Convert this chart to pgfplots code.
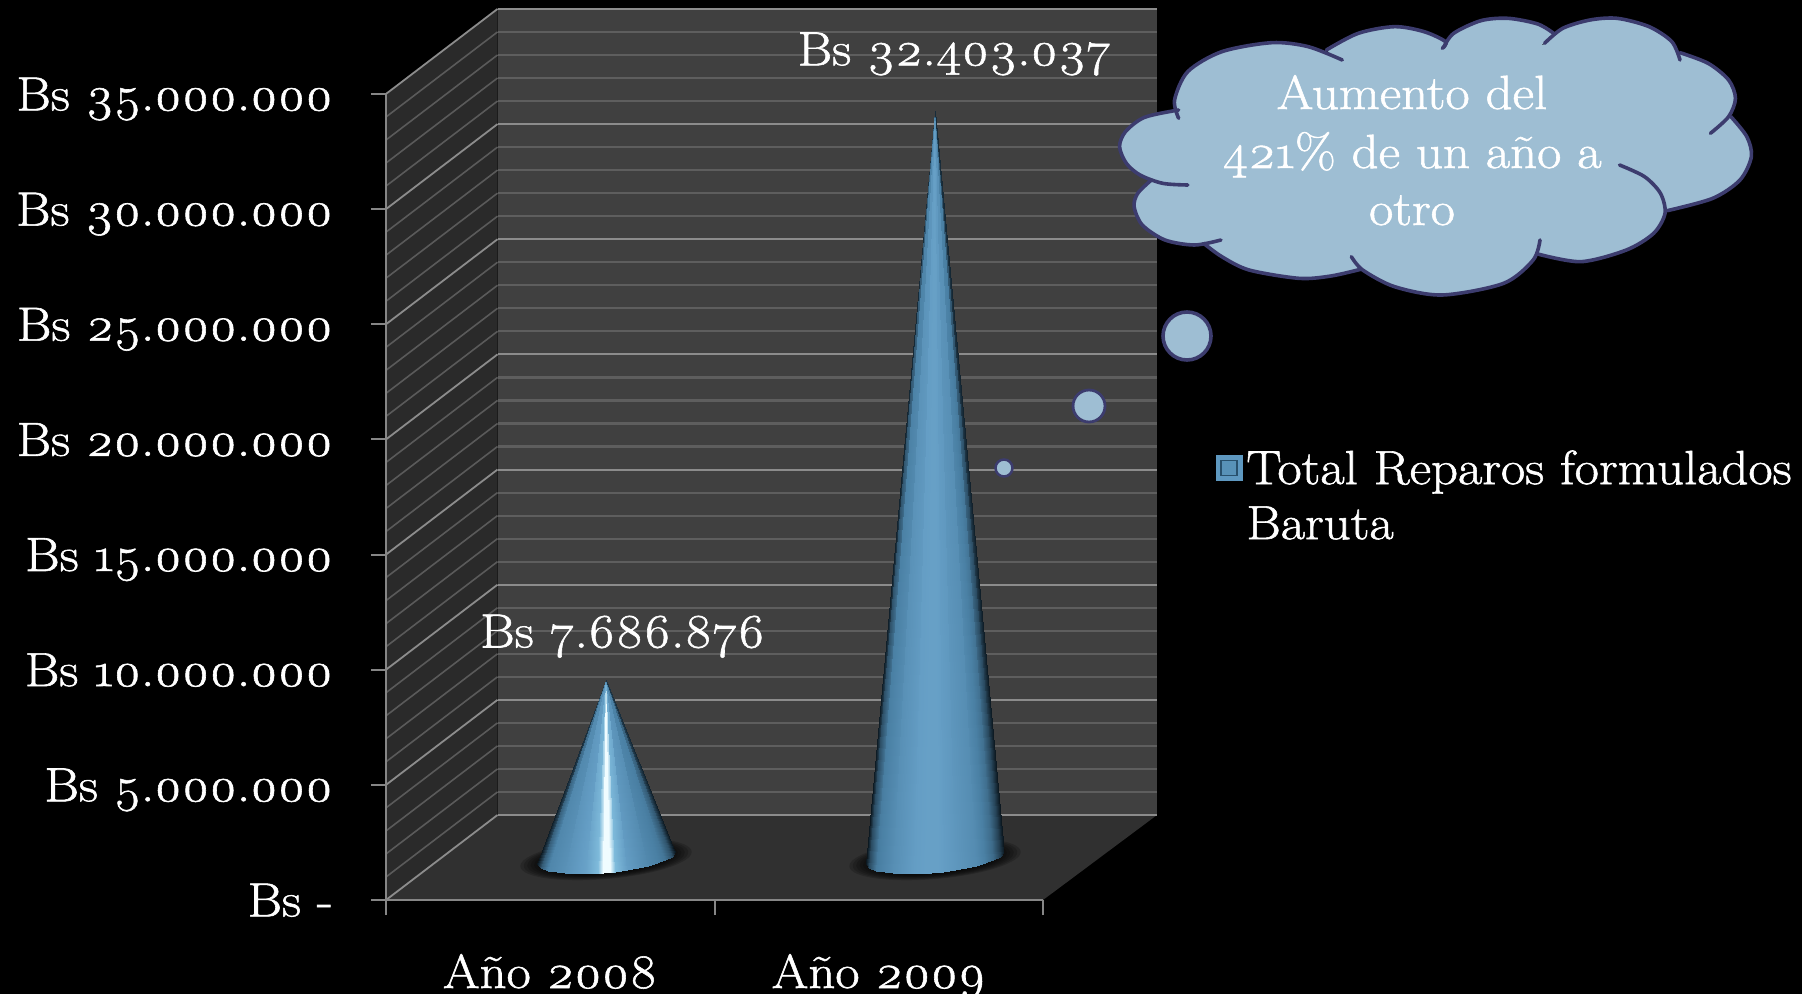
\documentclass[border=0pt]{standalone}
\usepackage{fontspec}
\setmainfont{Latin Modern Roman}[Numbers=OldStyle,FakeStretch=1.1,FakeBold=1.2]
\usepackage{pgfplots}
\usepackage{pgfplotstable}
\pgfplotsset{compat=1.18}
\usepgfplotslibrary{patchplots}

\definecolor{wallback}{HTML}{404040}
\definecolor{wallleft}{HTML}{2A2A2A}
\definecolor{floorc}{HTML}{303030}
\definecolor{gridmajor}{HTML}{8C8C8C}
\definecolor{gridminor}{HTML}{5E5E5E}
\definecolor{gridleft}{HTML}{5A5A5A}
\definecolor{axisc}{HTML}{868686}
\definecolor{cloudfill}{HTML}{9EBED3}
\definecolor{cloudline}{HTML}{3C3C6E}
\definecolor{keyfill}{HTML}{5E98C0}
\definecolor{keyline}{HTML}{28506C}
\definecolor{keyin}{HTML}{5892B8}

% cone fan: u = part of half width, a = share of value, b = base outline in px, m1/m2 = shade
\pgfplotstableread{
u a b m1 m2
0 1 0 .65 .5
-1 0 -6 0 0
-.95 0 -10.4 1.3 1
0 1 0 1.75 1.45
-.95 0 -10.4 1.3 1
-.85 0 -13 2.2 1.9
0 1 0 2.4 2.2
-.85 0 -13 2.2 1.9
-.6 0 -15.6 2.6 2.5
0 1 0 2.9 2.75
-.6 0 -15.6 2.6 2.5
-.3 0 -16.1 3.2 3
0 1 0 3.6 3.05
-.3 0 -16.1 3.2 3
-.12 0 -15.6 4 3.1
0 1 0 4.5 3.1
-.12 0 -15.6 4 3.1
-.05 0 -15.3 5 3.1
0 1 0 5 3.1
-.05 0 -15.3 5 3.1
.05 0 -14.7 5 3.1
0 1 0 4.5 3.05
.05 0 -14.7 5 3.1
.12 0 -14.2 4 3
0 1 0 3.5 2.9
.12 0 -14.2 4 3
.3 0 -12.5 3 2.8
0 1 0 2.65 2.6
.3 0 -12.5 3 2.8
.6 0 -8.4 2.3 2.4
0 1 0 2.05 2
.6 0 -8.4 2.3 2.4
.85 0 -2.8 1.8 1.6
0 1 0 1.45 1.2
.85 0 -2.8 1.8 1.6
.95 0 1 1.1 .8
0 1 0 .55 .4
.95 0 1 1.1 .8
1 0 6 0 0
}\conefan

\pgfplotstableread{
x v dx dy lab
0.5 7686876 0.05 33 {Bs 7.686.876}
1.5 32403037 0.06 46 {Bs 32.403.037}
}\barlabels

\def\pxv{43424}    % value per pixel
\def\depthx{0.1705}% half the depth of the box, in categories
\def\depthy{42.5}  % same, in pixels
\newcommand\bigfont{\fontsize{24}{29}\selectfont}

% soft shadow under a cone
\newcommand\coneshadow[1]{%
  \foreach \r in {1,.96,.92,.88,.84,.8,.76,.72,.68,.64}{%
    \fill[black,opacity=.17,rotate around={5:(#1,859)}] (#1,859) ellipse [x radius=86*\r,y radius=20*\r];
  }}

% the lobes of the cloud, in the coordinates of a zoomed crop
\newcommand\lobefill[1]{\fill[cloudfill] plot[smooth] coordinates {#1} -- (760,450) -- cycle;}
\newcommand\lobedraw[1]{\draw[cloudline,line width=1.8pt,line cap=round] plot[smooth] coordinates {#1};}
\newcommand\alllobes[1]{%
#1{(195,355)(186,300)(215,215)(290,155)(400,128)(480,140)(555,180)}
#1{(520,150)(590,100)(670,80)(735,95)(782,125)(775,145)}
#1{(778,142)(800,100)(860,62)(920,55)(985,72)(1020,100)}
#1{(1000,130)(1040,85)(1100,60)(1160,55)(1230,80)(1280,125)(1298,180)}
#1{(1298,158)(1360,190)(1405,240)(1420,295)(1405,350)(1365,400)}
#1{(1410,350)(1445,410)(1455,470)(1430,540)(1370,595)(1270,632)}
#1{(1165,495)(1220,530)(1255,580)(1265,640)(1240,700)(1180,750)(1080,785)(985,762)}
#1{(990,720)(975,780)(910,850)(775,885)(670,860)(600,810)(575,770)}
#1{(595,808)(530,828)(460,835)(350,810)(290,770)(250,730)}
#1{(288,720)(230,735)(165,720)(115,675)(97,620)(105,580)(135,540)}
#1{(215,555)(160,550)(110,525)(80,490)(65,440)(78,395)(120,352)(195,330)}
}

\begin{document}
\begin{tikzpicture}
\path[fill=black] (0,0) rectangle (901pt,-497pt);
\path[use as bounding box] (0,0) rectangle (901pt,-497pt);

% side wall and floor
\begin{scope}[x=.5pt,y=-.5pt]
\fill[wallleft] (386,94) -- (497.5,9) -- (497.5,815) -- (386,900) -- cycle;
\fill[floorc] (386,900) -- (497.5,815) -- (1157,815) -- (1043,900) -- cycle;
\end{scope}

% back wall
\begin{axis}[
  at={(248.75pt,-407.5pt)}, anchor=south west,
  scale only axis, width=329.5pt, height=403pt,
  xmin=0, xmax=2, ymin=0, ymax=35000000,
  scaled y ticks=false,
  axis background/.style={fill=wallback},
  axis line style={draw=none}, tick style={draw=none},
  xtick=\empty, ytick={0,5000000,...,35000000}, yticklabels={},
  minor y tick num=4,
  ymajorgrids, yminorgrids,
  major grid style={gridmajor,line width=1pt},
  minor grid style={gridminor,line width=1.1pt},
]
\end{axis}

\begin{scope}[x=.5pt,y=-.5pt]
\foreach \k in {0,...,35}{
  \pgfmathtruncatemacro\ismajor{mod(\k,5)==0}
  \ifnum\ismajor=1
    \draw[gridmajor,line width=.9pt] (386,900-23.03*\k) -- (497.5,815-23.03*\k);
  \else
    \draw[gridleft,line width=.8pt] (386,900-23.03*\k) -- (497.5,815-23.03*\k);
  \fi
}
\coneshadow{606}
\coneshadow{935}
\end{scope}

% front axis with the two cones
\begin{axis}[
  at={(193pt,-450pt)}, anchor=south west,
  scale only axis, width=328.5pt, height=403pt,
  xmin=0, xmax=2, ymin=0, ymax=35000000,
  clip=false,
  scaled y ticks=false,
  axis x line*=bottom, axis y line*=left,
  axis line style={axisc,line width=1pt,-},
  tick style={axisc,line width=1pt},
  major tick length=7.5pt,
  tick align=outside,
  xtick={0,1,2}, xticklabels={},
  extra x ticks={0.5,1.5}, extra x tick labels={Año 2008,Año 2009},
  extra x tick style={major tick length=0pt,
    xticklabel style={anchor=base,yshift=-44pt,text=white,font=\bigfont}},
  ytick={0,5000000,...,35000000},
  yticklabels={Bs -,Bs 5.000.000,Bs 10.000.000,Bs 15.000.000,Bs 20.000.000,Bs 25.000.000,Bs 30.000.000,Bs 35.000.000},
  yticklabel style={anchor=base east,yshift=-8.2pt,xshift=-15.5pt,text=white,font=\bigfont},
  colormap={conemap}{rgb255=(12,24,32) rgb255=(42,74,96) rgb255=(74,128,164) rgb255=(100,157,196) rgb255=(128,188,220) rgb255=(240,252,255)},
  point meta min=0, point meta max=5,
  legend cell align=left,
  legend style={at={(1.262,0.535)},anchor=west,draw=none,fill=none,text=white,font=\bigfont,inner sep=0pt},
]
\addplot[patch,patch type=triangle,shader=interp,forget plot,point meta=\thisrow{m1}]
  table[x expr=0.5+\depthx+0.21*\thisrow{u},
        y expr=\thisrow{a}*7686876+(\thisrow{b}+\depthy)*\pxv] {\conefan};
\addplot[patch,patch type=triangle,shader=interp,forget plot,point meta=\thisrow{m2}]
  table[x expr=1.5+\depthx+0.21*\thisrow{u},
        y expr=\thisrow{a}*32403037+(\thisrow{b}+\depthy)*\pxv] {\conefan};
\addplot[draw=none,mark=none,forget plot,point meta=explicit symbolic,
  nodes near coords={\pgfplotspointmeta},
  nodes near coords align={center},
  every node near coord/.style={anchor=base,text=white,font=\bigfont,inner sep=0pt}]
  table[x expr=\thisrow{x}+\depthx+\thisrow{dx},
        y expr=\thisrow{v}+(\thisrow{dy}+\depthy)*\pxv, meta=lab] {\barlabels};
\addlegendimage{legend image code/.code={
  \fill[keyfill] (-10pt,-6pt) rectangle (3pt,6.5pt);
  \filldraw[fill=keyin,draw=keyline,line width=.6pt] (-7.5pt,-3.5pt) rectangle (.5pt,4pt);
}}
\addlegendentry{\parbox[t]{280pt}{\raggedright\bigfont\baselineskip=27.5pt Total Reparos formulados\\Baruta}}
\end{axis}

% thought cloud
\begin{scope}[x=.5pt,y=-.5pt]
\filldraw[cloudfill,draw=cloudline,line width=1.25pt] (1004,468) circle [radius=8.5];
\filldraw[cloudfill,draw=cloudline,line width=1.4pt] (1089,406) circle [radius=16];
\filldraw[cloudfill,draw=cloudline,line width=1.8pt] (1187,336) circle [radius=24];
\end{scope}
\begin{scope}[shift={(545pt,0pt)},x=0.22727pt,y=-0.16667pt]
\alllobes\lobefill
\fill[cloudfill] (230,330) -- (400,200) -- (670,140) -- (800,140) -- (1000,135) -- (1160,110) -- (1300,220) -- (1380,350)
  -- (1380,500) -- (1200,620) -- (1000,720) -- (775,800) -- (460,770) -- (260,680) -- (180,580) -- (150,440) -- cycle;
\alllobes\lobedraw
\end{scope}
\begin{scope}[x=.5pt,y=-.5pt]
\node[anchor=base,text=white,font=\bigfont,inner sep=0pt] at (1412,109) {Aumento del};
\node[anchor=base,text=white,font=\bigfont,inner sep=0pt] at (1412,168) {421\% de un año a};
\node[anchor=base,text=white,font=\bigfont,inner sep=0pt] at (1412,225) {otro};
\end{scope}
\end{tikzpicture}
\end{document}
